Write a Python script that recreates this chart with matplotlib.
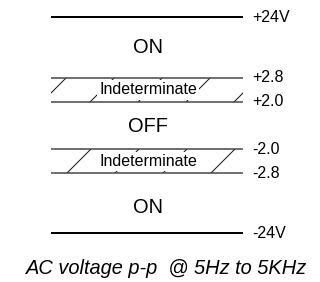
import numpy as np
import matplotlib
matplotlib.use('Agg')
import matplotlib.pyplot as plt

plt.rcParams['font.family'] = ['Liberation Sans', 'DejaVu Sans']
plt.rcParams['hatch.linewidth'] = 0.5

# voltage levels (top to bottom) and the states between them
levels = ['+24V', '+2.8', '+2.0', '-2.0', '-2.8', '-24V']
states = ['ON', 'OFF', 'ON']
band_label = 'Indeterminate'
bands = [('+2.8', '+2.0'), ('-2.0', '-2.8')]
caption = 'AC voltage p-p  @ 5Hz to 5KHz'

# schematic layout (pixel space of the figure)
level_y = dict(zip(levels, [17, 77.5, 101.5, 149, 173, 233]))
state_y = [47.5, 126, 207.5]
x0, x1 = 51, 243
xmid = 148

dpi = 144
fig = plt.figure(figsize=(320 / dpi, 282 / dpi), dpi=dpi)
ax = fig.add_axes([0, 0, 1, 1])
ax.set_xlim(0, 320)
ax.set_ylim(282, 0)
ax.axis('off')

# hatched indeterminate bands
for top, bot in bands:
    yt, yb = level_y[top], level_y[bot]
    ax.fill_between([x0, x1], yt, yb, facecolor='white', edgecolor='#111111',
                    linewidth=0, hatch='/', zorder=1)
    ax.text(xmid, (yt + yb) / 2 + 0.5, band_label, ha='center', va='center',
            fontsize=8, zorder=2,
            bbox=dict(boxstyle='square,pad=0.15', facecolor='white', edgecolor='none'))
    ax.hlines([yt, yb], x0, x1, color='#444444', linewidth=0.75, zorder=3)

# outer supply lines
ax.hlines([level_y[levels[0]], level_y[levels[-1]]], x0, x1, color='black',
          linewidth=1.0, zorder=3)

# level labels
for name in levels:
    ax.text(252, level_y[name], name, ha='left', va='center', fontsize=8)

# state labels
for name, y in zip(states, state_y):
    ax.text(xmid, y, name, ha='center', va='center', fontsize=10)

ax.text(167, 268, caption, ha='center', va='center', fontsize=10, style='italic')

fig.savefig('out.png', dpi=dpi)
